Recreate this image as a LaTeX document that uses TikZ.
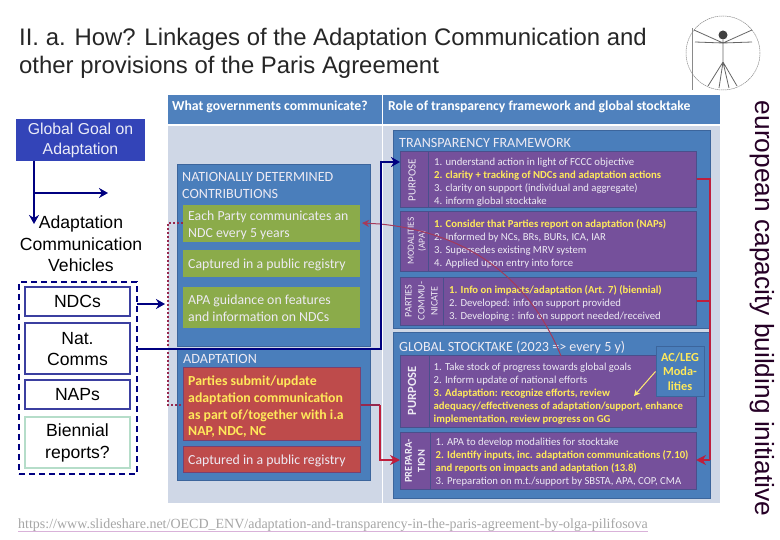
\documentclass[tikz,border=0pt]{standalone}
\usepackage{fontspec}
\setmainfont{Liberation Sans}
\newfontfamily\calfam{Carlito}
\newfontfamily\tmsfam{Liberation Serif}
\usetikzlibrary{arrows.meta}
\definecolor{hdr}{HTML}{4F81BD}
\definecolor{body}{HTML}{CFD7E6}
\definecolor{blu}{HTML}{4A7EBB}
\definecolor{bluedge}{HTML}{3C659C}
\definecolor{grn}{HTML}{8BAB4A}
\definecolor{pur}{HTML}{75509B}
\definecolor{puredge}{HTML}{4A4F8C}
\definecolor{rd}{HTML}{BE4B4B}
\definecolor{rdedge}{HTML}{7A4070}
\definecolor{yel}{HTML}{FFE95A}
\definecolor{wht}{HTML}{EDEAF3}
\definecolor{navy}{HTML}{000080}
\definecolor{goal}{HTML}{3344B8}
\definecolor{vblue}{HTML}{3B3FA0}
\definecolor{mint}{HTML}{B5DDC9}
\definecolor{redline}{HTML}{BE1E3C}
\definecolor{darkred}{HTML}{96284E}
\definecolor{curve}{HTML}{A53A5A}
\definecolor{vit}{HTML}{8A8A8A}
\newcommand\bx[6][]{%
  \pgfmathsetmacro\bxcx{(#3+#5)/2}\pgfmathsetmacro\bxcy{(#4+#6)/2}%
  \pgfmathsetmacro\bxw{#5-#3}\pgfmathsetmacro\bxh{#6-#4}%
  \node[rectangle,inner sep=0pt,minimum width=\bxw pt,minimum height=\bxh pt,#1] (#2) at (\bxcx,\bxcy) {};}
\tikzset{
  x=1pt,y=-1pt,
  hdrbox/.style={fill=hdr},
  bodybox/.style={fill=body},
  group/.style={fill=blu,draw=bluedge,line width=1pt},
  grnbox/.style={fill=grn},
  purbox/.style={fill=pur,draw=puredge,line width=1pt},
  rdbox/.style={fill=rd,draw=rdedge,line width=1pt},
  hdrtxt/.style={font=\calfam\bfseries\fontsize{13.7}{15}\selectfont,text=white,anchor=west,inner sep=0pt},
  grptxt/.style={font=\calfam\fontsize{14.1}{16.8}\selectfont,text=wht,anchor=north west,align=left,inner sep=0pt},
  boxtxt/.style={font=\calfam\fontsize{13.8}{16.6}\selectfont,text=wht,anchor=north west,align=left,inner sep=0pt},
  listtxt/.style={font=\calfam\fontsize{10.7}{13}\selectfont,text=wht,anchor=north west,align=left,inner sep=0pt},
  sidetxt/.style={text=wht,rotate=90,align=center,inner sep=0pt},
  leftbox/.style={draw=vblue,line width=2.5pt,fill=white},
  lefttxt/.style={font=\fontsize{17.6}{21.5}\selectfont,text=black,align=center,inner sep=0pt},
  navyline/.style={draw=navy,line width=2.5pt},
  navyarrow/.style={navyline,-{Stealth[length=9pt,width=10pt]}},
  redconn/.style={draw=redline,line width=2pt},
  redarrow/.style={redconn,-{Stealth[length=10pt,width=10pt]}},
}
\newcommand\yb[1]{\textcolor{yel}{\bfseries #1}}
\begin{document}
\begin{tikzpicture}
\useasboundingbox (0,0) rectangle (780,540);
\fill[white] (0,0) rectangle (780,540);
% title
\node[anchor=north west,inner sep=0pt,align=left,font=\fontsize{23.9}{28}\selectfont,text=black!85] (title) at (19,28)
 {II. a. How? Linkages of the Adaptation Communication and\\other provisions of the Paris Agreement};
% Vitruvian sketch
\draw[vit,line width=.5pt,dash pattern=on 1.5pt off .6pt] (723,53) circle (37);
\draw[vit,line width=.5pt] (692,28)--(692,90);
\fill[black!75] (723,35) circle (4.5);
\draw[black!60,line width=.8pt] (723,40)--(723,62) (723,62)--(708,86) (723,62)--(737,86) (723,62)--(719,88) (723,62)--(729,88)
  (723,43)--(694,30) (723,43)--(752,30) (723,43)--(695,42) (723,43)--(752,42);
% panel
\bx[hdrbox]{hl}{168}{95}{381.5}{124}
\bx[hdrbox]{hr}{382.5}{95}{720}{124}
\bx[bodybox]{bl}{168}{126}{381.5}{503}
\bx[bodybox]{br}{382.5}{126}{720}{503}
\node[hdrtxt] (htl) at (172,106.5) {What governments communicate?};
\node[hdrtxt] (htr) at (388,106.5) {Role of transparency framework and  global stocktake};
% NDC group
\bx[group]{ndc}{177}{165}{370}{347}
\node[grptxt] (ndct) at (182,172.5) {NATIONALLY DETERMINED\\CONTRIBUTIONS};
\bx[grnbox]{g1}{183}{205}{360}{242}
\bx[grnbox]{g2}{183}{250}{360}{277}
\bx[grnbox]{g3}{183}{287}{360}{328}
\node[boxtxt] (g1t) at (188,211) {Each Party communicates an\\NDC every 5 years};
\node[boxtxt] (g2t) at (188,258.5) {Captured in a public registry};
\node[boxtxt] (g3t) at (188,295) {APA guidance on features\\and information on NDCs};
% adaptation group
\bx[group]{ada}{177}{349}{370}{480}
\node[grptxt] (adat) at (183,354.5) {ADAPTATION};
\bx[rdbox]{r1}{183}{368}{360}{440}
\bx[rdbox]{r2}{183}{446}{360}{472}
\node[boxtxt,text=yel,font=\calfam\bfseries\fontsize{13.8}{16.6}\selectfont] (r1t) at (188,376) {Parties submit/update\\adaptation communication\\as part of/together with i.a\\NAP, NDC, NC};
\node[boxtxt] (r2t) at (188,455) {Captured in a public registry};
% Transparency
\bx[group]{tf}{393}{131}{710}{329}
\node[grptxt] (tft) at (399,138.5) {TRANSPARENCY FRAMEWORK};
\bx[purbox]{p1}{400}{152}{696}{208}
\bx[purbox]{p2}{400}{212}{696}{272}
\bx[purbox]{p3}{400}{278}{696}{326}
\draw[puredge,line width=1pt] (428,152)--(428,208) (428,212)--(428,272) (443,278)--(443,326);
\node[sidetxt,font=\calfam\fontsize{11}{12}\selectfont] (p1s) at (412,180) {PURPOSE};
\node[sidetxt,font=\calfam\fontsize{9.4}{11}\selectfont] (p2s) at (417,241) {MODALITIES\\(APA)};
\node[sidetxt,font=\calfam\fontsize{10}{13}\selectfont] (p3s) at (421.5,301) {PARTIES\\COMMU-\\NICATE};
\node[listtxt] (p1t) at (434,157.5) {1. understand action in light of FCCC objective\\\yb{2. clarity + tracking of NDCs and adaptation actions}\\3. clarity on support (individual and aggregate)\\4. inform global stocktake};
\node[listtxt] (p2t) at (434,219.5) {\yb{1. Consider that Parties report on adaptation (NAPs)}\\2. Informed by NCs, BRs, BURs, ICA, IAR\\3. Supersedes existing MRV system\\4. Applied upon entry into force};
\node[listtxt] (p3t) at (449,285) {\yb{1. Info on impacts/adaptation (Art. 7) (biennial)}\\2. Developed: info on support provided\\3. Developing : info on support needed/received};
% GST
\bx[group]{gs}{393}{333}{710}{498}
\node[grptxt] (gst) at (399,340.5) {GLOBAL STOCKTAKE (2023 => every 5 y)};
\bx[purbox]{q1}{400}{356}{696}{427}
\bx[purbox]{q2}{400}{432}{696}{489}
\draw[puredge,line width=1pt] (429,356)--(429,427) (430,432)--(430,489);
\node[sidetxt,font=\calfam\bfseries\fontsize{12.5}{13}\selectfont] (q1s) at (412,391) {PURPOSE};
\node[sidetxt,font=\calfam\bfseries\fontsize{10.5}{13}\selectfont] (q2s) at (415,461) {PREPARA-\\TION};
\node[listtxt] (q1t) at (433.5,363) {1. Take stock of progress towards global goals\\2. Inform update of national efforts\\\yb{3. Adaptation: recognize efforts, review}\\\yb{adequacy/effectiveness of adaptation/support, enhance}\\\yb{implementation, review progress on GG}};
\node[listtxt] (q2t) at (435.5,438) {1. APA to develop modalities for stocktake\\\yb{2. Identify inputs, inc. adaptation communications (7.10)}\\\yb{and reports on impacts and adaptation (13.8)}\\3. Preparation on m.t./support by SBSTA, APA, COP, CMA};
\bx[group]{ac}{656}{347}{704}{396}
\node[font=\calfam\bfseries\fontsize{12.3}{14.4}\selectfont,text=yel,align=center,inner sep=0pt] (act) at (680,371.5) {AC/LEG\\Moda-\\lities};
\coordinate (acp) at (634,396);
\draw[draw=yel!85!white,line width=1pt,-{Stealth[length=6pt,width=6pt]}] (ac.west) -- (acp);
% connectors on the panel
\coordinate (c1) at (381,162);
\coordinate (c1b) at (381,349);
\coordinate (tfin) at (400,162);
\coordinate (rb) at (380,405);
\coordinate (rc) at (380,460);
\coordinate (ra) at (710,179);
\coordinate (rd1) at (710,301);
\coordinate (rd2) at (710,460);
\coordinate (curvestart) at (380,224);
\coordinate (curveend) at (561,356);
\coordinate (gin) at (362,223);
\coordinate (q2l) at (400,460);
\coordinate (q2r) at (696,460);
\draw[curve,line width=1pt] (curvestart) .. controls (470,233) and (530,280) .. (curveend);
\draw[curve,line width=1pt,-{Stealth[length=7pt,width=7pt]}] (curvestart) -- (gin);
\draw[redconn] (p1.east |- ra) -- (ra) -- (rd2);
\draw[redconn] (p3.east |- rd1) -- (rd1);
\draw[redarrow] (rd2) -- (q2r);
\draw[redconn,draw=darkred] (r1.east |- rb) -- (rb);
\draw[redarrow] (rb) -- (rc) -- (q2l);
% dotted
\coordinate (dtop) at (168,223);
\coordinate (dbot) at (168,405);
\draw[darkred,line width=2pt,dotted] (g1.west |- dtop) -- (dtop) -- (dbot) -- (r1.west |- dbot);
% left column
\bx[fill=goal]{goalb}{16}{119}{145}{161}
\node[font=\fontsize{15.8}{20}\selectfont,text=white!90!goal,align=center,inner sep=0pt] (goalt) at (80.5,140) {Global Goal on\\Adaptation};
\bx[draw=navy,line width=2.5pt,dash pattern=on 6pt off 4pt]{dash}{19}{282}{137}{474}
\bx[leftbox]{ndcs}{25}{287}{130}{316}
\bx[leftbox]{nat}{25}{323}{130}{374}
\bx[leftbox]{naps}{25}{380}{130}{409}
\bx[leftbox,draw=mint]{bien}{25}{417}{130}{468}
\node[lefttxt] (ndcst) at (77.5,301.5) {NDCs};
\node[lefttxt] (natt) at (77.5,349) {Nat.\\Comms};
\node[lefttxt] (napst) at (77.5,395) {NAPs};
\node[lefttxt] (bient) at (77.5,443) {Biennial\\reports?};
\node[lefttxt] (vehic) at (81,244) {Adaptation\\Communication\\Vehicles};
\coordinate (g1x) at (34,161);
\coordinate (g2x) at (34,224);
\coordinate (g3x) at (34,193);
\coordinate (g4x) at (108,193);
\draw[navyarrow] (g1x) -- (g2x);
\draw[navyarrow] (g3x) -- (g4x);
\coordinate (ndcin) at (165,304);
\coordinate (ndcout) at (137,304);
\coordinate (natout) at (137,349);
\draw[navyarrow] (ndcout) -- (ndcin);
\draw[navyarrow] (natout) -- (c1b) -- (c1) -- (tfin);
% rotated label
\node[rotate=-90,font=\fontsize{26.3}{28}\selectfont,text=black!70!violet,inner sep=0pt] (eci) at (762,308.5) {european capacity building initiative};
% url
\node[anchor=base west,inner sep=0pt,font=\tmsfam\fontsize{14}{15}\selectfont,text=black!35] (url) at (18,528) {https://www.slideshare.net/OECD\_ENV/adaptation-and-transparency-in-the-paris-agreement-by-olga-pilifosova};
\draw[violet!30,line width=.7pt] (url.base west)++(0,3) -- ++(630,0);
\end{tikzpicture}
\end{document}
